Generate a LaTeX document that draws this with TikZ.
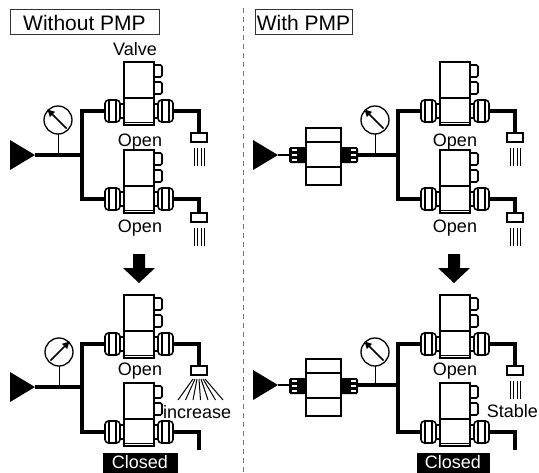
\documentclass[tikz,border=0pt]{standalone}
\usepackage{fontspec}
\setmainfont{Liberation Sans}
\usetikzlibrary{arrows.meta}
\tikzset{
  ln/.style={line width=1.6pt, line join=miter},
  pipe/.style={line width=3.8pt, line join=miter},
  thinpipe/.style={line width=2.6pt},
  spr/.style={line width=1pt},
  lbl/.style={font=\fontsize{18}{20}\selectfont, inner sep=0pt, anchor=base},
  ttl/.style={font=\fontsize{21}{24}\selectfont, inner sep=0pt, anchor=base},
  tbox/.style={draw=black!80, line width=0.8pt},
  cbox/.style={fill=black},
  valve/.pic={
    \draw[ln, fill=white] (-15,-49) rectangle (15,14);
    \draw[ln] (-15,-13) -- (15,-13);
    \draw[line width=1pt] (-15,11) -- (15,11);
    \draw[ln, rounded corners=1.5pt] (15,-46) -- (23,-46) -- (23,-34) -- (15,-34);
    \draw[ln, rounded corners=1.5pt] (15,-29) -- (23,-29) -- (23,-17) -- (15,-17);
    \foreach \s in {1,-1}{
      \draw[ln, fill=white] (\s*15,-7) rectangle (\s*19,7);
      \draw[ln, fill=white, rounded corners=3.5pt] (\s*19,-11) rectangle (\s*34,11);
      \draw[line width=1.2pt] (\s*23,-10) -- (\s*23,10);
      \draw[line width=1.2pt] (\s*30,-10) -- (\s*30,10);
    }
  },
  pmp/.pic={
    \draw[ln, fill=white] (-17.5,-27) rectangle (17.5,30);
    \draw[ln] (-17.5,-13) -- (17.5,-13);
    \draw[ln] (-17.5,12) -- (17.5,12);
    \foreach \s in {1,-1}{
      \fill[rounded corners=1.5pt] (\s*17.5,-8) rectangle (\s*34.5,8);
      \foreach \yy in {-6,-1.2,3.6}
        \fill[white] (\s*27,\yy) rectangle (\s*32,\yy+2.4);
    }
  },
  gaugeUL/.pic={
    \draw[line width=1.3pt, fill=white] (0,0) circle (14pt);
    \draw[line width=1.5pt, -{Triangle[length=7pt,width=7pt]}] (8.5,8.5) -- (-10.5,-10.5);
  },
  gaugeUR/.pic={
    \draw[line width=1.3pt, fill=white] (0,0) circle (14pt);
    \draw[line width=1.5pt, -{Triangle[length=7pt,width=7pt]}] (-8.5,8.5) -- (10.5,-10.5);
  },
  nozzle/.pic={
    \draw[ln, fill=white] (-8,0) rectangle (8,9);
  },
  sprayS/.pic={
    \foreach \xx in {-5,-1.5,2,5.5} \draw[spr] (\xx,15) -- (\xx,33);
  },
  sprayF/.pic={
    \foreach \i in {0,...,6} \draw[spr] (-6+2*\i,13) -- (-21+7.5*\i,34);
  },
  inlet/.pic={
    \fill (-25,-15) -- (0,0) -- (-25,15) -- cycle;
  },
  downarrow/.pic={
    \fill (-6,0) -- (6,0) -- (6,14) -- (16,14) -- (0,29) -- (-16,14) -- (-6,14) -- cycle;
  }
}
\begin{document}
\begin{tikzpicture}[x=1pt,y=-1pt]
\useasboundingbox (0,0) rectangle (539,472);
\fill[white] (0,0) rectangle (539,472);

% divider
\draw[black!55, line width=1pt, dash pattern=on 5pt off 4pt] (243,8) coordinate (d1) -- (243,472) coordinate (d2);

% titles
\draw[tbox] (10,9) rectangle (159,34);
\node[ttl] (t1) at (84.5,30) {Without PMP};
\draw[tbox] (255,9) rectangle (352,34);
\node[ttl] (t2) at (303.5,30) {With PMP};

% ================= top left =================
\draw[line width=1pt] (58,134) -- (58,155);
\draw[pipe] (35,155) -- (82,155);
\draw[pipe] (105,111) -- (82,111) -- (82,199) -- (105,199);
\draw[pipe] (173,111) -- (199,111) -- (199,133);
\draw[pipe] (173,199) -- (199,199) -- (199,213);
\pic (inA) at (35,155) {inlet};
\pic (gA) at (58,120) {gaugeUL};
\pic (vA1) at (139,111) {valve};
\pic (vA2) at (139,199) {valve};
\pic (nA1) at (199,133) {nozzle};
\pic (sA1) at (199,133) {sprayS};
\pic (nA2) at (199,213) {nozzle};
\pic (sA2) at (199,213) {sprayS};
\node[lbl] (valvelbl) at (135,55) {Valve};
\node[lbl] (oA1) at (140,146) {Open};
\node[lbl] (oA2) at (140,232) {Open};

% ================= bottom left =================
\pic (arL) at (139,254) {downarrow};
\draw[line width=1pt] (59,366) -- (59,387);
\draw[pipe] (35,387) -- (82,387);
\draw[pipe] (105,344) -- (82,344) -- (82,432) -- (105,432);
\draw[pipe] (173,344) -- (199,344) -- (199,366);
\draw[pipe] (173,432) -- (199,432) -- (199,450);
\pic (inB) at (35,387) {inlet};
\pic (gB) at (59,352) {gaugeUR};
\pic (vB1) at (139,344) {valve};
\pic (vB2) at (139,432) {valve};
\pic (nB1) at (199,366) {nozzle};
\pic (sB1) at (199,366) {sprayF};
\node[lbl] (oB1) at (140,375) {Open};
\node[lbl, anchor=base west] (inc) at (163,418) {increase};
\fill[cbox] (103,453) rectangle (178,475);
\node[lbl, text=white] (cB) at (140,468.5) {Closed};

% ================= top right =================
\draw[line width=1pt] (375,134) -- (375,155);
\draw[thinpipe] (278,155) -- (289,155);
\draw[pipe] (358,155) -- (398,155);
\draw[pipe] (421,111) -- (398,111) -- (398,199) -- (421,199);
\draw[pipe] (489,111) -- (515,111) -- (515,133);
\draw[pipe] (489,199) -- (515,199) -- (515,213);
\pic (inC) at (278,155) {inlet};
\pic (pC) at (323.5,155) {pmp};
\pic (gC) at (375,120) {gaugeUL};
\pic (vC1) at (455,111) {valve};
\pic (vC2) at (455,199) {valve};
\pic (nC1) at (515,133) {nozzle};
\pic (sC1) at (515,133) {sprayS};
\pic (nC2) at (515,213) {nozzle};
\pic (sC2) at (515,213) {sprayS};
\node[lbl] (oC1) at (455,146) {Open};
\node[lbl] (oC2) at (455,232) {Open};

% ================= bottom right =================
\pic (arR) at (454,254) {downarrow};
\draw[line width=1pt] (375,366) -- (375,385);
\draw[thinpipe] (278,385) -- (289,385);
\draw[pipe] (358,385) -- (398,385);
\draw[pipe] (421,344) -- (398,344) -- (398,432) -- (421,432);
\draw[pipe] (489,344) -- (515,344) -- (515,366);
\draw[pipe] (489,432) -- (515,432) -- (515,450);
\pic (inD) at (278,385) {inlet};
\pic (pD) at (323.5,386) {pmp};
\pic (gD) at (375,352) {gaugeUL};
\pic (vD1) at (455,344) {valve};
\pic (vD2) at (455,432) {valve};
\pic (nD1) at (515,366) {nozzle};
\pic (sD1) at (515,366) {sprayS};
\node[lbl] (oD1) at (455,375) {Open};
\node[lbl, anchor=base east] (stb) at (538,417) {Stable};
\fill[cbox] (417,453) rectangle (490,475);
\node[lbl, text=white] (cD) at (453,468.5) {Closed};
\end{tikzpicture}
\end{document}
